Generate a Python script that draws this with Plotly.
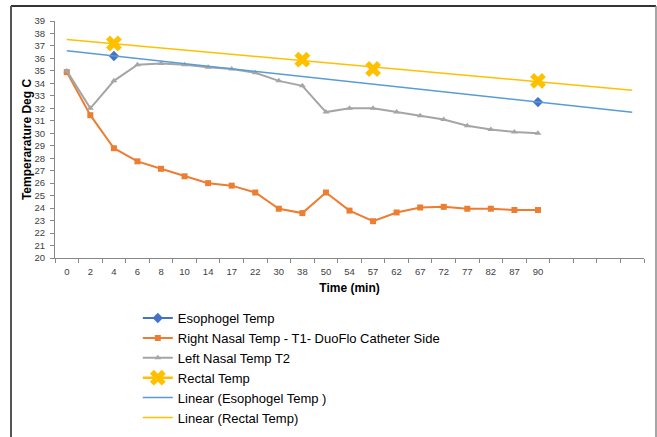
import numpy as np
import plotly.graph_objects as go

# ---------------- data ----------------
time_labels = ["0", "2", "4", "6", "8", "10", "14", "17", "22", "30", "38",
               "50", "54", "57", "62", "67", "72", "77", "82", "87", "90"]
extra_categories = 4  # empty categories after 90 (trendline forecast)

esophageal = [None, None, 36.2, None, None, None, None, None, None, None, None,
              None, None, None, None, None, None, None, None, None, 32.5]
right_nasal = [34.9, 31.45, 28.8, 27.75, 27.15, 26.55, 26.0, 25.8, 25.25, 23.95, 23.6,
               25.25, 23.8, 22.95, 23.65, 24.05, 24.1, 23.95, 23.95, 23.85, 23.85]
left_nasal = [35.0, 32.0, 34.2, 35.5, 35.6, 35.5, 35.3, 35.15, 34.85, 34.2, 33.8,
              31.7, 32.0, 32.0, 31.7, 31.4, 31.1, 30.6, 30.3, 30.1, 30.0]
rectal = [None, None, 37.2, None, None, None, None, None, None, None, 35.9,
          None, None, 35.15, None, None, None, None, None, None, 34.2]

y_ticks = list(range(20, 40))

# ---------------- helpers ----------------
n_cat = len(time_labels) + extra_categories
xi = np.arange(len(time_labels))


def trend(values):
    # Excel-style linear trendline on category index (1-based), with forecast
    pts = [(i + 1, v) for i, v in enumerate(values) if v is not None]
    px_, py_ = zip(*pts)
    m, b = np.polyfit(px_, py_, 1)
    xs = np.array([0, n_cat - 1])
    return xs, m * (xs + 1) + b


BLUE = "#4472C4"
ORANGE = "#ED7D31"
GRAY = "#A5A5A5"
GOLD = "#FFC000"
TBLUE = "#5B9BD5"

fig = go.Figure()
fig.add_trace(go.Scatter(x=xi, y=esophageal, name="Esophogel Temp", mode="lines+markers",
                         line=dict(color=BLUE, width=2),
                         marker=dict(symbol="diamond", size=8, color=BLUE),
                         connectgaps=False))
fig.add_trace(go.Scatter(x=xi, y=right_nasal, name="Right Nasal Temp - T1- DuoFlo Catheter Side",
                         mode="lines+markers", line=dict(color=ORANGE, width=2),
                         marker=dict(symbol="square", size=6, color=ORANGE)))
fig.add_trace(go.Scatter(x=xi, y=left_nasal, name="Left Nasal Temp T2",
                         mode="lines+markers", line=dict(color=GRAY, width=2),
                         marker=dict(symbol="triangle-up", size=6, color=GRAY)))
fig.add_trace(go.Scatter(x=xi, y=rectal, name="Rectal Temp", mode="lines+markers",
                         line=dict(color=GOLD, width=2.5),
                         marker=dict(symbol="x", size=14, color=GOLD),
                         connectgaps=False))
tx, ty = trend(esophageal)
fig.add_trace(go.Scatter(x=tx, y=ty, name="Linear (Esophogel Temp )", mode="lines",
                         line=dict(color=TBLUE, width=1.5)))
tx, ty = trend(rectal)
fig.add_trace(go.Scatter(x=tx, y=ty, name="Linear (Rectal Temp)", mode="lines",
                         line=dict(color=GOLD, width=1.5)))

axis_col = "#898989"
tick_font = dict(family="Liberation Sans", size=9.5, color="#404040")

fig.update_layout(
    width=657, height=437,
    margin=dict(l=55, r=13, t=21, b=179, autoexpand=False),
    plot_bgcolor="white", paper_bgcolor="white",
    showlegend=True,
    legend=dict(x=0.1406, y=-0.19, xanchor="left", yanchor="top",
                font=dict(family="Liberation Sans", size=13, color="#000000"),
                tracegroupgap=0, itemwidth=30, bgcolor="rgba(0,0,0,0)"),
    xaxis=dict(range=[-0.5, n_cat - 0.5], tickmode="array", tickvals=list(xi),
               ticktext=time_labels, ticks="", showgrid=False, zeroline=False,
               showline=True, linecolor=axis_col, linewidth=1, tickfont=tick_font,
               ticklabelstandoff=5, automargin=False,
               minor=dict(tickmode="linear", tick0=-0.5, dtick=1, ticks="outside",
                          ticklen=4, tickcolor=axis_col, showgrid=False),
               title=dict(text="<b>Time (min)</b>",
                          font=dict(family="Liberation Sans", size=12, color="#000"),
                          standoff=7)),
    yaxis=dict(range=[20, 39], tickmode="array", tickvals=y_ticks,
               ticktext=[str(v) for v in y_ticks], ticks="outside", ticklen=4,
               tickcolor=axis_col, showgrid=False, zeroline=False, showline=True,
               linecolor=axis_col, linewidth=1, tickfont=tick_font,
               ticklabelstandoff=3, automargin=False,
               title=dict(text="<b>Temperarature Deg C</b>",
                          font=dict(family="Liberation Sans", size=12, color="#000"),
                          standoff=0)),
)

# outer frame (left, top, right)
x_l = (11 - 55) / 589
x_r = (656 - 55) / 589
y_t = (258 - 6) / 237
y_b = (258 - 437) / 237
fig.add_shape(type="line", xref="paper", yref="paper", x0=x_l, x1=x_r, y0=y_t, y1=y_t,
              line=dict(color="#333333", width=2))
fig.add_shape(type="line", xref="paper", yref="paper", x0=x_l, x1=x_l, y0=y_t, y1=y_b,
              line=dict(color="#555555", width=2))
fig.add_shape(type="line", xref="paper", yref="paper", x0=x_r, x1=x_r, y0=y_t, y1=y_b,
              line=dict(color="#888888", width=1.5))

fig.write_html("out.html", config={"displayModeBar": False},
               post_script="document.body.style.margin='0';document.body.style.overflow='hidden';")
